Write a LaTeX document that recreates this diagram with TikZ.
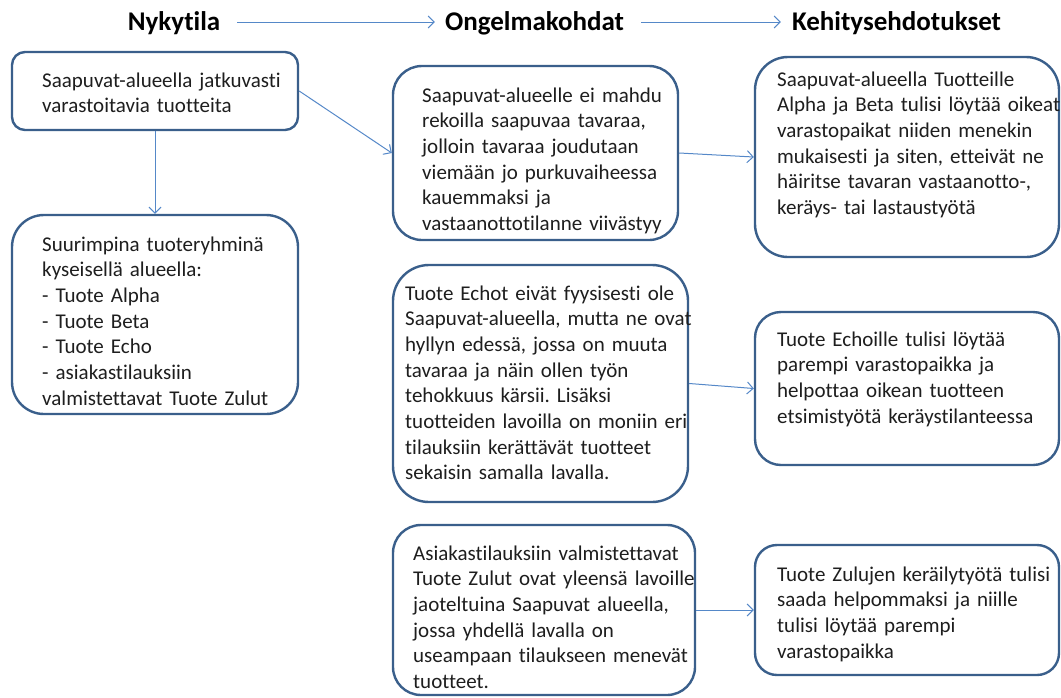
\documentclass[tikz,border=0pt]{standalone}
\usepackage{fontspec}
\setmainfont[RawFeature={-liga;-clig;-dlig}]{Carlito}
\usetikzlibrary{arrows.meta}
\definecolor{boxline}{HTML}{3A5F8B}
\definecolor{connline}{HTML}{5588C8}
\definecolor{txtcol}{HTML}{1E1E1E}
\frenchspacing
\tikzset{
  box/.style={draw=boxline, line width=2.4pt, fill=white, inner sep=0pt},
  txt/.style={anchor=base west, inner sep=0pt, text width=330pt, align=left, text=txtcol,
    font=\fontsize{21}{25.7}\selectfont},
  head/.style={inner sep=0pt, text height=17pt, text depth=0pt, text=black,
    font=\fontsize{27}{30}\selectfont\bfseries},
  conn/.style={draw=connline, line width=1pt, -{Straight Barb[length=6pt,width=12pt,line width=1pt]}},
}
\begin{document}
\begin{tikzpicture}[x=1pt,y=-1pt]
\useasboundingbox (0,0) rectangle (1061,697);
% headers
\node[head] (h1) at (174,22) {Nykytila};
\node[head] (h2) at (534.5,22) {Ongelmakohdat};
\node[head] (h3) at (896.5,22) {Kehitysehdotukset};
% boxes
\node[box, minimum width=286pt, minimum height=78pt, rounded corners=13pt] (a) at (155,91) {};
\node[box, minimum width=286pt, minimum height=199pt, rounded corners=32pt] (b) at (155,314.5) {};
\node[box, minimum width=285pt, minimum height=174pt, rounded corners=29pt] (c) at (535.5,153) {};
\node[box, minimum width=304pt, minimum height=200pt, rounded corners=33pt] (d) at (907,157) {};
\node[box, minimum width=295pt, minimum height=237pt, rounded corners=36pt] (e) at (540.5,383.5) {};
\node[box, minimum width=304pt, minimum height=153pt, rounded corners=26pt] (f) at (907,388.5) {};
\node[box, minimum width=302pt, minimum height=170pt, rounded corners=28pt] (g) at (544,610) {};
\node[box, minimum width=304pt, minimum height=130pt, rounded corners=22pt] (h) at (907,610) {};
% texts
\node[txt] (ta) at (42,87) {Saapuvat-alueella jatkuvasti\\varastoitavia tuotteita};
\node[txt] (tb) at (42,251) {Suurimpina tuoteryhminä\\kyseisellä alueella:\\- Tuote Alpha\\- Tuote Beta\\- Tuote Echo\\- asiakastilauksiin\\valmistettavat Tuote Zulut};
\node[txt] (tc) at (422,102) {Saapuvat-alueelle ei mahdu\\rekoilla saapuvaa tavaraa,\\jolloin tavaraa joudutaan\\viemään jo purkuvaiheessa\\kauemmaksi ja\\vastaanottotilanne viivästyy};
\node[txt] (td) at (777,86) {Saapuvat-alueella Tuotteille\\Alpha ja Beta tulisi löytää oikeat\\varastopaikat niiden menekin\\mukaisesti ja siten, etteivät ne\\häiritse tavaran vastaanotto-,\\keräys- tai lastaustyötä};
\node[txt] (te) at (405,300) {Tuote Echot eivät fyysisesti ole\\Saapuvat-alueella, mutta ne ovat\\hyllyn edessä, jossa on muuta\\tavaraa ja näin ollen työn\\tehokkuus kärsii. Lisäksi\\tuotteiden lavoilla on moniin eri\\tilauksiin kerättävät tuotteet\\sekaisin samalla lavalla.};
\node[txt] (tf) at (777,346) {Tuote Echoille tulisi löytää\\parempi varastopaikka ja\\helpottaa oikean tuotteen\\etsimistyötä keräystilanteessa};
\node[txt] (tg) at (413,560) {Asiakastilauksiin valmistettavat\\Tuote Zulut ovat yleensä lavoille\\jaoteltuina Saapuvat alueella,\\jossa yhdellä lavalla on\\useampaan tilaukseen menevät\\tuotteet.};
\node[txt] (th) at (777,581) {Tuote Zulujen keräilytyötä tulisi\\saada helpommaksi ja niille\\tulisi löytää parempi\\varastopaikka};
% connectors
\draw[conn] ([xshift=17pt]h1.east) -- ([xshift=-10pt]h2.west);
\draw[conn] ([xshift=17pt]h2.east) -- ([xshift=-11pt]h3.west);
\draw[conn] (a.south) -- (b.north);
\draw[conn] (a.east) -- (c.west);
\draw[conn] (c.east) -- (d.west);
\draw[conn] (e.east) -- (f.west);
\draw[conn] (g.east) -- (h.west);
\end{tikzpicture}
\end{document}
